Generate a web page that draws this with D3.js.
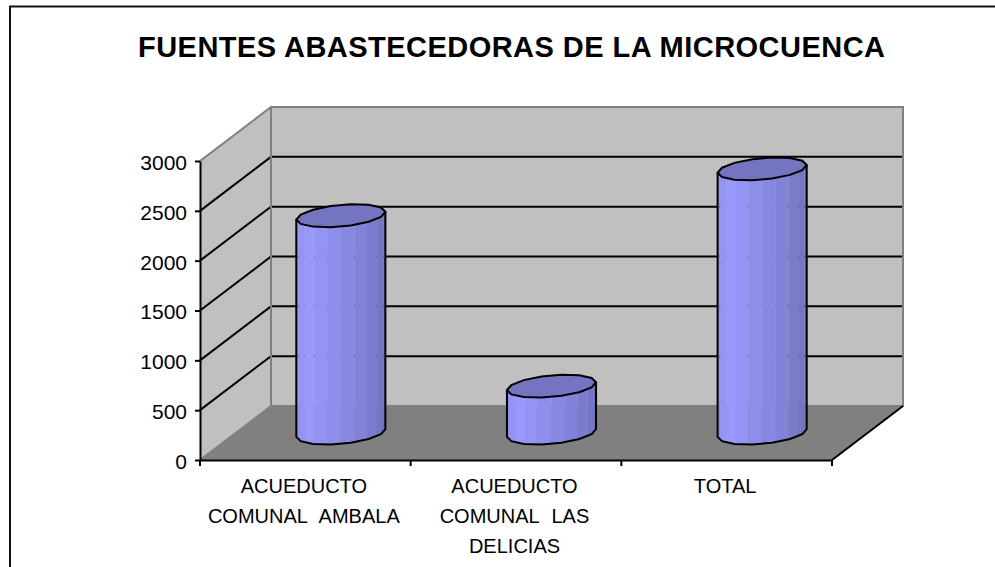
<!DOCTYPE html>
<html>
<head>
<meta charset="utf-8">
<script src="https://cdn.jsdelivr.net/npm/d3@7"></script>
<style>
  body { margin: 0; background: #fff; }
  text { font-family: "Liberation Sans", Arial, sans-serif; fill: #000; }
</style>
</head>
<body>
<div id="chart"></div>
<script>
var title = "FUENTES ABASTECEDORAS DE LA MICROCUENCA";
var categories = ["ACUEDUCTO COMUNAL AMBALA", "ACUEDUCTO COMUNAL LAS DELICIAS", "TOTAL"];
var categoryLines = [["ACUEDUCTO", "COMUNAL AMBALA"], ["ACUEDUCTO", "COMUNAL LAS", "DELICIAS"], ["TOTAL"]];
var values = [2180, 470, 2650];
var yTicks = [0, 500, 1000, 1500, 2000, 2500, 3000];

var width = 995, height = 567;
// offset from the front of the 3d box to the back wall
var depth = {x: 71, y: -54};

var svg = d3.select("#chart").append("svg")
    .attr("width", width)
    .attr("height", height)
    .style("display", "block");

var x = d3.scaleBand().domain(categories).range([200, 832]);
var y = d3.scaleLinear().domain([0, 3000]).range([460, 161]);

// frame, open on the right and bottom
svg.append("path")
    .attr("d", "M10,567V6.5H995")
    .attr("fill", "none")
    .attr("stroke", "#111")
    .attr("stroke-width", 2);

svg.append("text")
    .attr("x", 511.5)
    .attr("y", 57)
    .attr("text-anchor", "middle")
    .attr("textLength", 747)
    .attr("lengthAdjust", "spacing")
    .style("font-size", "29px")
    .style("font-weight", "bold")
    .text(title);

var x0 = x.range()[0], x1 = x.range()[1];
var y0 = y(0), yTop = y(3000);

// floor
svg.append("path")
    .attr("d", d3.line()([[x0, y0], [x0 + depth.x, y0 + depth.y], [x1 + depth.x, y0 + depth.y], [x1, y0]]) + "Z")
    .attr("fill", "#808080");
// side wall
svg.append("path")
    .attr("d", d3.line()([[x0, y0], [x0 + depth.x, y0 + depth.y], [x0 + depth.x, yTop + depth.y], [x0, yTop]]) + "Z")
    .attr("fill", "#c0c0c0");
// back wall
svg.append("rect")
    .attr("x", x0 + depth.x)
    .attr("y", yTop + depth.y)
    .attr("width", x1 - x0)
    .attr("height", y0 - yTop)
    .attr("fill", "#c0c0c0");

// gridlines on side and back wall
yTicks.filter(d => d > 0 && d < 3000).forEach(function(d) {
    svg.append("path")
        .attr("d", d3.line()([[x0, y(d)], [x0 + depth.x, y(d) + depth.y], [x1 + depth.x, y(d) + depth.y]]))
        .attr("fill", "none")
        .attr("stroke", "#000")
        .attr("stroke-width", 2);
});

// wall edges
svg.append("path")
    .attr("d", d3.line()([[x0, y0], [x0 + depth.x, y0 + depth.y], [x1 + depth.x, y0 + depth.y], [x1 + depth.x, yTop + depth.y], [x0 + depth.x, yTop + depth.y], [x0, yTop]]))
    .attr("fill", "none")
    .attr("stroke", "#808080")
    .attr("stroke-width", 2);
svg.append("path")
    .attr("d", d3.line()([[x0 + depth.x, y0 + depth.y], [x0 + depth.x, yTop + depth.y]]))
    .attr("stroke", "#808080")
    .attr("stroke-width", 2);
// right front edge of floor
svg.append("path")
    .attr("d", d3.line()([[x1, y0], [x1 + depth.x, y0 + depth.y]]))
    .attr("stroke", "#000")
    .attr("stroke-width", 2);

// cylinders, standing halfway into the box
var facets = 10;
var edgeSteps = 7; // outline is coarser than the shading, gives the jagged look
var rx = 41.9, skewX = 15.1, skewY = 11.5;
var facetColor = d3.scaleLinear()
    .domain([0, 0.25, 1])
    .range(["#9090f0", "#9999ff", "#6f6fb8"]);
var start = Math.atan2(skewX, rx);

function ring(cx, cy, t) {
    return [cx + rx * Math.cos(t) + skewX * Math.sin(t), cy - skewY * Math.sin(t)];
}

var bars = svg.selectAll(".bar")
    .data(categories.map((c, i) => ({name: c, value: values[i]})))
    .join("g")
    .attr("class", "bar");

bars.each(function(d) {
    var g = d3.select(this);
    var cx = x(d.name) + x.bandwidth() / 2 + depth.x / 2;
    var base = y(0) + depth.y / 2;
    var top = y(d.value) + depth.y / 2;

    // front half of the ring, left to right
    var steps = d3.range(facets + 1).map(i => start + Math.PI + Math.PI * i / facets);

    d3.range(facets).forEach(function(i) {
        var a = ring(cx, top, steps[i]), b = ring(cx, top, steps[i + 1]);
        var c = ring(cx, base, steps[i + 1]), e = ring(cx, base, steps[i]);
        g.append("path")
            .attr("d", d3.line()([a, b, c, e]) + "Z")
            .attr("fill", facetColor(i / (facets - 1)));
    });

    // body outline
    var lower = d3.range(edgeSteps + 1).map(i => ring(cx, base, start + Math.PI + Math.PI * i / edgeSteps));
    var outline = [ring(cx, top, steps[0])].concat(lower, [ring(cx, top, steps[facets])]);
    g.append("path")
        .attr("d", d3.line()(outline))
        .attr("fill", "none")
        .attr("stroke", "#000")
        .attr("stroke-width", 2);

    // top face
    var cap = d3.range(edgeSteps * 2).map(i => ring(cx, top, start + Math.PI * i / edgeSteps));
    g.append("path")
        .attr("d", d3.line()(cap) + "Z")
        .attr("fill", "#7474c0")
        .attr("stroke", "#000")
        .attr("stroke-width", 2);
});

// axes
var yAxis = svg.append("g")
    .attr("transform", "translate(" + x0 + ",0)")
    .call(d3.axisLeft(y).tickValues(yTicks).tickFormat(d3.format("d")).tickSize(5).tickSizeOuter(0).tickPadding(8));
var xAxis = svg.append("g")
    .attr("transform", "translate(0," + y0 + ")")
    .call(d3.axisBottom(x).tickValues([]).tickSizeOuter(0));

// band edges get the ticks here, not the band centres
x.domain().concat([null]).forEach(function(c) {
    var px = c === null ? x1 : x(c);
    xAxis.append("line")
        .attr("x1", px).attr("x2", px)
        .attr("y1", 0).attr("y2", 6)
        .attr("stroke", "#000")
        .attr("stroke-width", 2);
});

[yAxis, xAxis].forEach(function(axis) {
    axis.selectAll(".domain, .tick line").attr("stroke", "#000").attr("stroke-width", 2);
});
yAxis.selectAll("text")
    .attr("dy", "0.4em")
    .style("font-size", "21px")
    .style("font-family", '"Liberation Sans", Arial, sans-serif');

// wrapped category labels
categories.forEach(function(c, i) {
    var label = svg.append("text")
        .attr("text-anchor", "middle")
        .style("font-size", "20px")
        .style("word-spacing", "7px");
    categoryLines[i].forEach(function(line, j) {
        label.append("tspan")
            .attr("x", x(c) + x.bandwidth() / 2 - 1.5)
            .attr("y", 493 + j * 30)
            .text(line);
    });
});
</script>
</body>
</html>
